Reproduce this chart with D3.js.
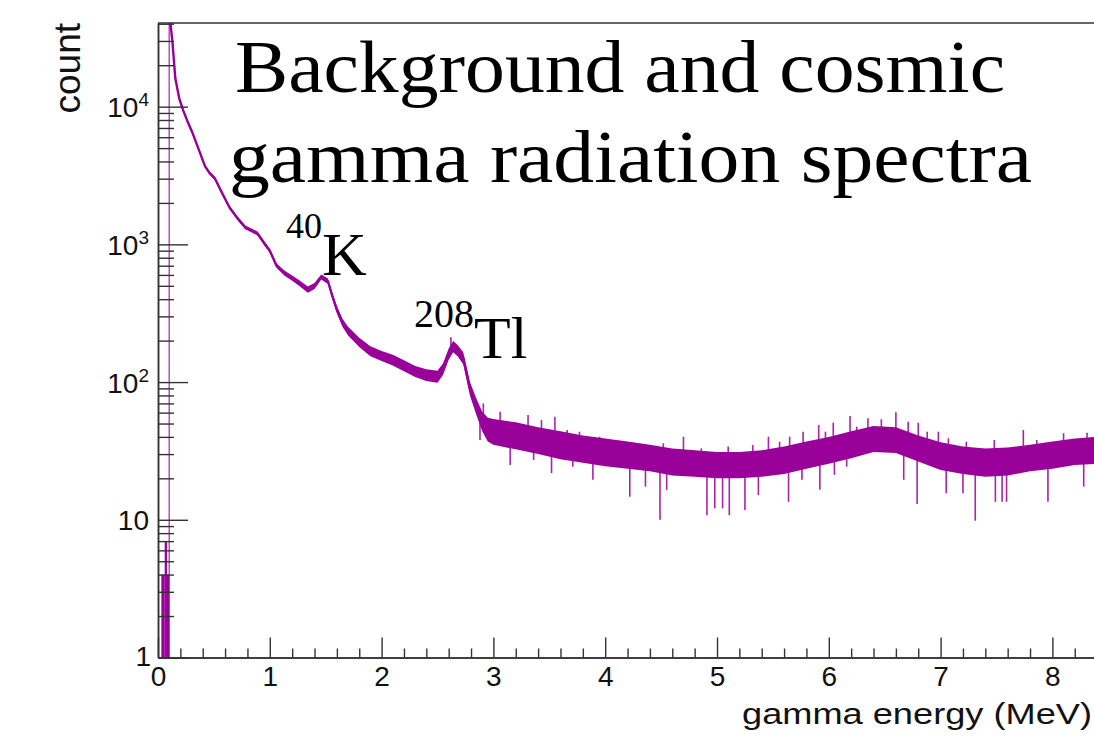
<!DOCTYPE html>
<html><head><meta charset="utf-8">
<script src="https://cdn.jsdelivr.net/npm/d3@7"></script>
<style>body{margin:0;background:#fff;overflow:hidden}</style>
</head><body>
<svg id="chart" width="1094" height="740"></svg>
<script>
// Spectrum samples: energy (MeV) and counts (central value, lower and upper edge of the fluctuation band)
const energy = [0.105,0.13,0.155,0.19,0.225,0.27,0.31,0.36,0.42,0.46,0.51,0.58,0.64,0.71,0.78,0.84,0.89,0.95,1.0,1.06,1.13,1.2,1.27,1.34,1.4,1.46,1.52,1.56,1.6,1.65,1.7,1.8,1.9,2.0,2.1,2.2,2.3,2.4,2.5,2.55,2.6,2.64,2.68,2.73,2.79,2.85,2.9,2.95,3.0,3.2,3.4,3.6,3.8,4.0,4.2,4.4,4.6,4.8,5.0,5.2,5.4,5.6,5.8,6.0,6.2,6.4,6.6,6.8,7.0,7.2,7.4,7.6,7.8,8.0,8.2,8.4];
const countMid = [45000,29000,16000,11500,9400,7600,6400,5000,3700,3300,3000,2300,1850,1550,1330,1260,1200,1020,900,700,620,570,520,470,500,580,540,420,335,270,235,195,168,155,145,132,120,113,110,125,160,182,170,150,90,66,52,46,44,41,38,35,33,31,29.5,28,26.5,25.5,25,25,25.5,27,29.5,32,35,38.5,38,33,29,27,26,26.5,28,29.5,31,32];
const countLow = [45000,28000,15500,11200,9150,7400,6230,4870,3600,3210,2920,2240,1800,1500,1290,1220,1160,985,870,675,595,545,495,445,475,555,515,400,315,252,218,180,154,142,132,120,109,102,99,113,145,165,154,135,80,57,44,37,35,32.5,30,27.5,26,24.5,23.5,22.5,21,20.5,20,20,20.5,21.5,23.5,25.5,28,31,30.5,26.5,23,21.5,20.5,21,22.5,23.5,25,25.5];
const countHigh = [45000,30000,16500,11800,9650,7800,6570,5130,3800,3390,3080,2360,1900,1600,1370,1300,1240,1055,930,725,645,595,545,495,525,605,565,440,355,288,252,210,182,168,158,144,131,124,121,137,175,199,186,165,100,75,61,55,54,51,47,44,41,39,37,35,33,32,31,31,32,34,37,40,44,48,47,41,36.5,34,33,33.5,35,37,39,40];

// Bins below the trigger threshold: lower edge, upper edge (MeV), counts
const thresholdBinLo = [0.03, 0.06, 0.08];
const thresholdBinHi = [0.06, 0.08, 0.10];
const thresholdCount = [4, 7, 4];
const thresholdEdge = 0.10;

// Isolated single-bin fluctuations (MeV, counts)
const spikeEnergy = [2.62,2.88,2.91,3.06,3.15,3.18,3.31,3.36,3.43,3.52,3.55,3.66,3.71,3.77,3.89,3.95,4.01,4.22,4.25,4.36,4.49,4.52,4.55,4.70,4.86,4.91,4.98,5.05,5.10,5.11,5.25,5.32,5.37,5.46,5.56,5.64,5.65,5.76,5.77,5.91,5.92,5.97,6.04,6.05,6.16,6.19,6.25,6.35,6.47,6.60,6.67,6.71,6.79,6.80,6.88,6.98,7.05,7.07,7.20,7.23,7.31,7.48,7.49,7.55,7.59,7.74,7.86,7.96,8.10,8.28,8.31];
const spikeCount  = [212,38,70,61,25,50.2,57.7,27.2,53.1,21.8,56.1,44.9,24.3,43.6,19.5,40.1,38,14.7,34,17.4,10,35.9,16.5,40.1,33,10.8,12.1,12.1,34,10.8,11.8,34.9,15.1,40.1,36.9,13.5,40.1,19.5,43.6,48.8,16.5,43.6,50.7,21.2,24.3,56.7,47.4,54.6,53.7,60.4,19.5,51.6,13,50.7,43.6,43.6,15.6,39.1,15.6,36.9,9.85,38,13.5,13.5,13.5,44.9,38,13.5,42.5,17.4,42.9];

// Axis ticks and labels
const xTicks = [0,1,2,3,4,5,6,7,8];
const yTicks = [1,10,100,1000,10000];
const yTickBase = ["1","10","10","10","10"];
const yTickExp  = ["","","2","3","4"];
const titleLines = ["Background and cosmic", "gamma radiation spectra"];
const isotopeMass = ["40","208"];
const isotopeSymbol = ["K","Tl"];
const xTitle = "gamma energy (MeV)";
const yTitle = "count";

const purple = "#990099";
const axisColor = "#333";
const sans = "'Liberation Sans', Arial, Helvetica, sans-serif";
const serif = "'Liberation Serif', 'Times New Roman', serif";

const svg = d3.select("#chart");
svg.append("rect").attr("width",1094).attr("height",740).attr("fill","#fff");

const plotLeft = 158, plotTop = 23, plotBottom = 657.5;
const x = d3.scaleLinear().domain([0, 10]).range([plotLeft, plotLeft + 1118]);
const y = d3.scaleLog().domain([1, 40500]).range([plotBottom, plotTop]);

// clip region for the histogram
svg.append("clipPath").attr("id","plotClip")
  .append("rect").attr("x", plotLeft).attr("y", plotTop).attr("width", 1094 - plotLeft).attr("height", plotBottom - plotTop);

const plot = svg.append("g").attr("clip-path","url(#plotClip)");

// sub-threshold bins
plot.selectAll("rect.thr").data(thresholdCount).join("rect")
  .attr("class","thr")
  .attr("x", (d,i) => x(thresholdBinLo[i]))
  .attr("width", (d,i) => x(thresholdBinHi[i]) - x(thresholdBinLo[i]))
  .attr("y", d => y(d))
  .attr("height", d => plotBottom - y(d))
  .attr("fill", purple);

// rising edge of the first bin above threshold
plot.append("line")
  .attr("x1", x(thresholdEdge)).attr("x2", x(thresholdEdge))
  .attr("y1", y(1)).attr("y2", y(countMid[0]))
  .attr("stroke", purple).attr("stroke-width", 1.2).attr("opacity", 0.85);

const pts = energy.map((e,i) => ({e, mid: countMid[i], lo: countLow[i], hi: countHigh[i]}));

// fluctuation band
plot.append("path").datum(pts)
  .attr("d", d3.area().x(d => x(d.e)).y0(d => y(d.lo)).y1(d => y(d.hi)))
  .attr("fill", purple);

// central trace
plot.append("path").datum(pts)
  .attr("d", d3.line().x(d => x(d.e)).y(d => y(d.mid)))
  .attr("fill","none").attr("stroke", purple).attr("stroke-width", 2.4)
  .attr("stroke-linejoin","round");

// single-bin spikes, drawn from the nearest sample's central value
plot.selectAll("line.spike").data(spikeEnergy).join("line")
  .attr("class","spike")
  .attr("x1", d => x(d)).attr("x2", d => x(d))
  .attr("y1", (d,i) => y(spikeCount[i]))
  .attr("y2", d => {
    let k = 0, best = Infinity;
    energy.forEach((e,j) => { const dd = Math.abs(e - d); if (dd < best) { best = dd; k = j; } });
    return y(countMid[k]);
  })
  .attr("stroke", purple).attr("stroke-width", 1.6).attr("opacity", 0.85);

// frame (top edge)
svg.append("line").attr("x1", plotLeft).attr("x2", 1094).attr("y1", plotTop).attr("y2", plotTop)
  .attr("stroke", axisColor).attr("stroke-width", 1.5);

// x axis: major and minor ticks pointing into the plot
const xMinor = d3.range(0, 9.001, 0.2).map(v => +v.toFixed(1)).filter(v => Math.abs(v - Math.round(v)) > 1e-6);
const gxMinor = svg.append("g").attr("transform", `translate(0,${plotBottom})`)
  .call(d3.axisBottom(x).tickValues(xMinor).tickSizeInner(-9).tickSizeOuter(0).tickFormat(""));
const gx = svg.append("g").attr("transform", `translate(0,${plotBottom})`)
  .call(d3.axisBottom(x).tickValues(xTicks).tickSizeInner(-20).tickSizeOuter(0).tickPadding(9).tickFormat(d3.format("d")));
[gx, gxMinor].forEach(g => {
  g.select(".domain").attr("stroke", axisColor).attr("stroke-width", 1.5);
  g.selectAll(".tick line").attr("stroke", axisColor).attr("stroke-width", 1.4);
});
gx.selectAll("text").attr("font-family", sans).attr("font-size", 28).attr("fill","#111");

// y axis: decades and 2..9 sub-ticks
const yMinor = [];
[1,10,100,1000,10000].forEach(dec => { for (let k = 2; k <= 9; k++) if (dec*k <= 40500) yMinor.push(dec*k); });
const gyMinor = svg.append("g").attr("transform", `translate(${plotLeft},0)`)
  .call(d3.axisLeft(y).tickValues(yMinor).tickSizeInner(-16).tickSizeOuter(0).tickFormat(""));
const gy = svg.append("g").attr("transform", `translate(${plotLeft},0)`)
  .call(d3.axisLeft(y).tickValues(yTicks).tickSizeInner(-30).tickSizeOuter(0).tickPadding(9).tickFormat(""));
[gy, gyMinor].forEach(g => {
  g.select(".domain").attr("stroke", axisColor).attr("stroke-width", 1.5);
  g.selectAll(".tick line").attr("stroke", axisColor).attr("stroke-width", 1.4);
});
gy.selectAll(".tick text").each(function(d,i) {
  const t = d3.select(this).attr("font-family", sans).attr("font-size", 28).attr("fill","#111")
    .attr("dy", "0.36em");
  t.text(null);
  t.append("tspan").text(yTickBase[i]);
  if (yTickExp[i]) t.append("tspan").attr("font-size", 19).attr("dy", -11).text(yTickExp[i]);
});
// the "1" at the origin sits a little lower and further right
gy.selectAll(".tick text").filter((d,i) => i === 0).attr("x", -7).attr("dy","0.3em");

// axis titles
svg.append("text").attr("x", 742).attr("y", 724)
  .attr("font-family", sans).attr("font-size", 30).attr("fill","#111")
  .attr("textLength", 350).attr("lengthAdjust","spacingAndGlyphs")
  .text(xTitle);
svg.append("text").attr("transform", "translate(80,23) rotate(-90)")
  .attr("text-anchor","end")
  .attr("font-family", sans).attr("font-size", 37).attr("fill","#111")
  .text(yTitle);

// chart title
const titleX = [235, 229], titleY = [92, 182], titleLen = [770, 803];
titleLines.forEach((s,i) => {
  svg.append("text").attr("x", titleX[i]).attr("y", titleY[i])
    .attr("font-family", serif).attr("font-size", 74).attr("fill","#000")
    .attr("textLength", titleLen[i]).attr("lengthAdjust","spacingAndGlyphs")
    .text(s);
});

// isotope labels next to their peaks
const isoX = [286, 414], isoY = [275, 358], isoSupDy = [-37, -31], isoSupSize = [36, 40], isoSize = [62, 60];
isotopeSymbol.forEach((s,i) => {
  const t = svg.append("text").attr("x", isoX[i]).attr("y", isoY[i])
    .attr("font-family", serif).attr("fill","#000");
  t.append("tspan").attr("font-size", isoSupSize[i]).attr("dy", isoSupDy[i]).text(isotopeMass[i]);
  t.append("tspan").attr("font-size", isoSize[i]).attr("dy", -isoSupDy[i]).text(s);
});
</script>
</body></html>
